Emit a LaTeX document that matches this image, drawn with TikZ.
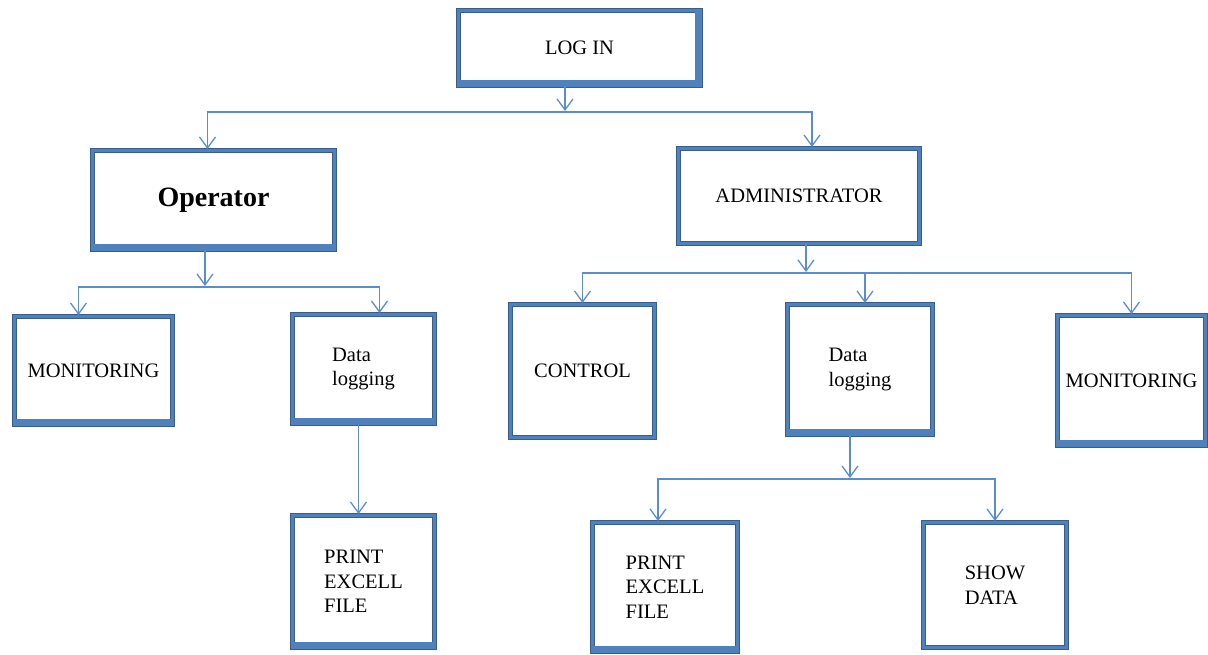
\documentclass[tikz,border=0pt]{standalone}
\usepackage{fontspec}
\setmainfont{Liberation Serif}
\usetikzlibrary{arrows.meta}
\definecolor{boxedge}{RGB}{56,93,138}
\definecolor{boxblue}{RGB}{79,129,189}
\definecolor{linkblue}{RGB}{91,141,206}
\begin{document}
\begin{tikzpicture}[x=1pt,y=-1pt,
	box/.style={draw=boxedge, double=boxblue, line width=1pt, double distance=3pt,
		fill=white, align=left, inner sep=2pt, font=\fontsize{20.5}{24.5}\selectfont},
	bar/.style={boxblue, line width=4.5pt},
	link/.style={linkblue, line width=1.3pt},
	arr/.style={link, -{Straight Barb[length=11pt,width=16pt]}, shorten >=1pt}]
	\useasboundingbox (0,0) rectangle (1208,654);
	% Boxes
	\node[box, minimum width=242, minimum height=75] (login) at (579.5,48) {LOG IN};
	\node[box, minimum width=242, minimum height=99, font=\fontsize{28}{32}\selectfont\bfseries] (oper) at (213.5,200) {Operator};
	\node[box, minimum width=241, minimum height=95] (admin) at (799,196) {ADMINISTRATOR};
	\node[box, minimum width=158, minimum height=108] (mon1) at (93.5,370.5) {MONITORING};
	\node[box, minimum width=142, minimum height=109] (log1) at (363.5,369) {Data\\logging};
	\node[box, minimum width=142, minimum height=132] (prt1) at (363.5,581.5) {PRINT\\EXCELL\\FILE};
	\node[box, minimum width=144, minimum height=133] (ctrl) at (582.5,371) {CONTROL};
	\node[box, minimum width=145, minimum height=130] (log2) at (860,369.5) {Data\\logging};
	\node[box, minimum width=148, minimum height=130] (mon2) at (1131.5,380.5) {MONITORING};
	\node[box, minimum width=145, minimum height=129] (prt2) at (665,587) {PRINT\\EXCELL\\FILE};
	\node[box, minimum width=143, minimum height=125] (show) at (995,585) {SHOW\\DATA};
	% Thick bottom edges
	\foreach \b in {login,oper,mon1,log1,prt1,log2,mon2,prt2}
		\draw[bar] ([yshift=4pt]\b.south west) -- ([yshift=4pt]\b.south east);
	\draw[bar] ([xshift=-4pt]login.north east) -- ([xshift=-4pt]login.south east);
	% Junctions
	\coordinate (j1) at (565,112);
	\coordinate (j2) at (205,287);
	\coordinate (j3) at (806,273);
	\coordinate (j4) at (850,479);
	% Connectors
	\draw[arr] (login.south -| j1) -- (j1);
	\draw[arr] (j1) -| ([xshift=-6pt]oper.north);
	\draw[arr] (j1) -| ([xshift=13pt]admin.north);
	\draw[arr] (oper.south -| j2) -- (j2);
	\draw[arr] (j2) -| ([xshift=-15pt]mon1.north);
	\draw[arr] (j2) -| ([xshift=16pt]log1.north);
	\draw[arr] ([xshift=-5pt]log1.south) -- ([xshift=-5pt]prt1.north);
	\draw[arr] (admin.south -| j3) -- (j3);
	\draw[arr] (j3) -| (ctrl.north);
	\draw[arr] (j3) -| ([xshift=5pt]log2.north);
	\draw[arr] (j3) -| (mon2.north);
	\draw[arr] (log2.south -| j4) -- (j4);
	\draw[arr] (j4) -| ([xshift=-7pt]prt2.north);
	\draw[arr] (j4) -| (show.north);
\end{tikzpicture}
\end{document}
